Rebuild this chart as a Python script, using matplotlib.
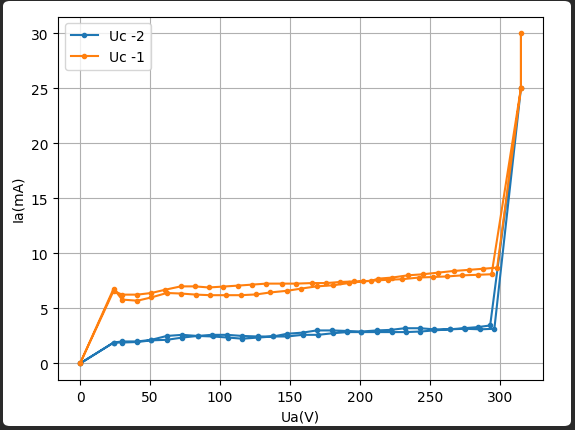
import matplotlib
matplotlib.use("Agg")
import matplotlib.pyplot as plt
from matplotlib.patches import FancyBboxPatch

# Uc = -2 : forward sweep then back
ua_m2 = [0, 24, 30, 41, 51, 62, 73, 84, 94, 105, 116, 127, 138, 148, 159, 169, 180, 191,
         201, 212, 222, 232, 243, 253, 264, 274, 284, 293, 315,
         296, 286, 275, 264, 253, 243, 233, 223, 212, 201, 191, 181, 170, 159, 148, 138,
         127, 116, 106, 95, 84, 73, 62, 51, 41, 30, 24, 0]
ia_m2 = [0, 1.9, 2.0, 2.0, 2.15, 2.5, 2.6, 2.5, 2.6, 2.6, 2.5, 2.45, 2.45, 2.7, 2.8, 3.0, 3.0, 2.95,
         2.9, 3.0, 3.05, 3.2, 3.2, 3.1, 3.1, 3.2, 3.3, 3.45, 25,
         3.15, 3.1, 3.15, 3.1, 3.0, 2.9, 2.85, 2.85, 2.85, 2.85, 2.85, 2.75, 2.6, 2.6, 2.45, 2.45,
         2.35, 2.25, 2.35, 2.45, 2.5, 2.35, 2.15, 2.1, 1.95, 1.9, 1.9, 0]

# Uc = -1
ua_m1 = [0, 24, 30, 41, 51, 62, 72, 83, 93, 104, 115, 126, 136, 148, 158, 169, 181, 192,
         202, 213, 220, 230, 242, 252, 262, 273, 284, 294, 315, 315, 315,
         298, 288, 278, 267, 256, 245, 234, 223, 213, 208, 196, 186, 176, 166, 154, 144,
         133, 123, 113, 102, 92, 82, 72, 61, 51, 41, 30, 24, 0]
ia_m1 = [0, 6.8, 5.8, 5.7, 6.0, 6.4, 6.35, 6.25, 6.2, 6.2, 6.2, 6.27, 6.45, 6.6, 6.8, 7.0, 7.1, 7.3,
         7.45, 7.55, 7.6, 7.65, 7.8, 7.85, 7.9, 8.0, 8.05, 8.1, 25, 30, 25,
         8.7, 8.6, 8.5, 8.4, 8.25, 8.1, 8.0, 7.8, 7.7, 7.5, 7.45, 7.4, 7.3, 7.3, 7.25, 7.25,
         7.25, 7.16, 7.07, 6.98, 6.9, 7.0, 7.0, 6.7, 6.4, 6.25, 6.25, 6.6, 0]

fig = plt.figure(figsize=(5.75, 4.31), dpi=100)
fig.patch.set_facecolor("#2a2a2a")
# white window area of the screenshot, kept behind the axes
fig.patches.append(FancyBboxPatch((3 / 575, 4 / 431), 568 / 575, 425 / 431,
                                  boxstyle="round,pad=0,rounding_size=0.012",
                                  transform=fig.transFigure, facecolor="white",
                                  edgecolor="none", zorder=-10))
ax = fig.add_axes([58 / 575, 1 - 381 / 431, 485 / 575, 363.5 / 431])
ax.set_zorder(5)

ax.plot(ua_m2, ia_m2, '.-', label="Uc -2")
ax.plot(ua_m1, ia_m1, '.-', label="Uc -1")
ax.set_xlabel("Ua(V)")
ax.set_ylabel("Ia(mA)")
ax.grid(True)
ax.legend(loc="upper left")

fig.savefig("out.png", dpi=100, facecolor=fig.get_facecolor())
